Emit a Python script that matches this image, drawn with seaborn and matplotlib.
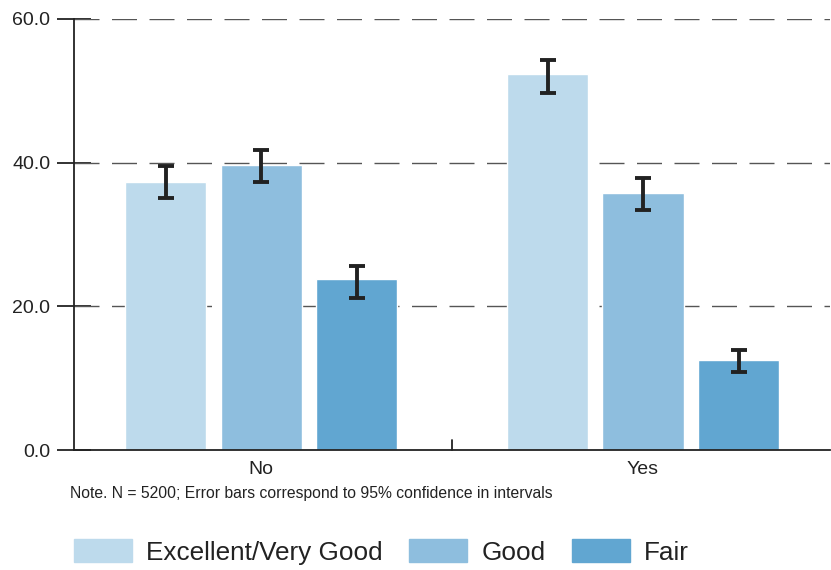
import matplotlib
matplotlib.use("Agg")
import matplotlib.pyplot as plt
import seaborn as sns
import pandas as pd
import numpy as np

groups = ["No", "No", "No", "Yes", "Yes", "Yes"]
ratings = ["Excellent/Very Good", "Good", "Fair"] * 2
values = [37.3, 39.6, 23.8, 52.3, 35.8, 12.5]
ci_low = [35.0, 37.3, 21.2, 49.7, 33.4, 10.9]
ci_high = [39.5, 41.8, 25.6, 54.3, 37.9, 13.9]
hue_order = ["Excellent/Very Good", "Good", "Fair"]
colors = ["#BDDAEC", "#8EBEDE", "#61A6D1"]
y_ticks = [0, 20, 40, 60]
y_tick_labels = ["0.0", "20.0", "40.0", "60.0"]
note = "Note. N = 5200; Error bars correspond to 95% confidence in intervals"

df = pd.DataFrame({"group": groups, "rating": ratings, "value": values,
                   "lo": ci_low, "hi": ci_high})

sns.set_theme(style="white")
plt.rcParams["font.family"] = ["Liberation Sans", "DejaVu Sans"]

fig = plt.figure(figsize=(8.31, 5.70), dpi=100)
ax = fig.add_axes([0.089, 0.2105, 0.91, 0.7565])

sns.barplot(data=df, x="group", y="value", hue="rating", hue_order=hue_order,
            palette=colors, errorbar=None, width=0.75, gap=0.15,
            saturation=1, ax=ax, legend=False, zorder=2)

# error bars at bar centres
for cont, h in zip(ax.containers, hue_order):
    sub = df[df["rating"] == h]
    xs = [p.get_x() + p.get_width() / 2 for p in cont.patches]
    vals = sub["value"].to_numpy()
    err = np.vstack([vals - sub["lo"].to_numpy(), sub["hi"].to_numpy() - vals])
    ax.errorbar(xs, vals, yerr=err, fmt="none", ecolor="#222222",
                elinewidth=2.8, capsize=5.5, capthick=2.8, zorder=3)

ax.set_ylim(0, 60)
ax.set_xlim(-0.49, 1.49)
ax.set_yticks(y_ticks)
ax.set_yticklabels(y_tick_labels, fontsize=14, color="#222222")
ax.set_xticks([0, 1])
ax.set_xticklabels(["No", "Yes"], fontsize=14, color="#222222")
ax.set_xlabel("")
ax.set_ylabel("")

# grid
for y in y_ticks[1:]:
    ax.axhline(y, color="#555555", lw=1.0, ls=(0, (18, 9)), zorder=1)

for s in ["top", "right"]:
    ax.spines[s].set_visible(False)
for s in ["left", "bottom"]:
    ax.spines[s].set_color("#222222")
    ax.spines[s].set_linewidth(1.3)

ax.tick_params(axis="y", direction="inout", length=24, width=1.3, color="#222222", left=True, pad=5)
ax.tick_params(axis="x", length=0, pad=8)
# inward divider tick between groups
ax.plot([0.5, 0.5], [0, 1.4], color="#222222", lw=1.3, clip_on=False, zorder=4)

fig.text(0.084, 0.134, note, fontsize=11.3, color="#222222", ha="left", va="center")

handles = [plt.Rectangle((0, 0), 1, 1, color=c) for c in colors]
fig.legend(handles, hue_order, loc="center left", bbox_to_anchor=(0.089, 0.032),
           ncol=3, frameon=False, fontsize=18.8, handlelength=2.22, handleheight=1.0,
           handletextpad=0.55, columnspacing=1.0, labelcolor="#222222",
           borderaxespad=0, borderpad=0)

fig.savefig("out.png", dpi=100)
